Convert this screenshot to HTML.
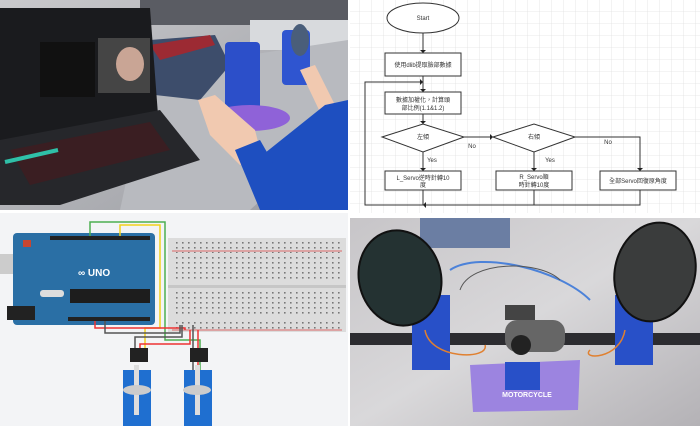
<!DOCTYPE html>
<html><head><meta charset="utf-8"><style>
html,body{margin:0;padding:0;background:#fff;}
svg{display:block}
text{font-family:"Liberation Sans","Noto Sans CJK TC",sans-serif;}
</style></head><body>
<svg width="700" height="426" viewBox="0 0 700 426" xmlns="http://www.w3.org/2000/svg">
<defs>
<pattern id="grid" width="12" height="12" patternUnits="userSpaceOnUse"><path d="M12 0V12H0" fill="none" stroke="#e2e2e2" stroke-width="0.8"/></pattern>
<pattern id="holes" width="6" height="5" patternUnits="userSpaceOnUse"><rect x="2" y="2" width="1.6" height="1.6" fill="#777"/></pattern>
<linearGradient id="floor" x1="0" y1="0" x2="1" y2="1"><stop offset="0" stop-color="#c9c9cc"/><stop offset="1" stop-color="#9a9ca2"/></linearGradient>
<linearGradient id="bg2" x1="0" y1="0" x2="1" y2="1"><stop offset="0" stop-color="#c7c5c8"/><stop offset="0.5" stop-color="#d9d8da"/><stop offset="1" stop-color="#b4b2b6"/></linearGradient>
</defs>

<!-- TOP LEFT PHOTO -->
<rect x="0" y="0" width="348" height="210" fill="url(#floor)"/>
<rect x="140" y="0" width="208" height="25" fill="#5a5c63"/>
<rect x="250" y="20" width="98" height="30" fill="#d8dadd"/>
<polygon points="150,70 348,40 348,120 250,210 120,210" fill="#b8babf"/>
<polygon points="150,40 215,35 230,65 200,100 155,95" fill="#3d4d6b"/>
<polygon points="150,45 210,35 215,45 160,60" fill="#9c2a33"/>
<polygon points="0,8 150,8 158,115 10,140 0,140" fill="#1a1b1e"/>
<rect x="40" y="42" width="55" height="55" fill="#111"/>
<rect x="98" y="38" width="52" height="55" fill="#454545"/>
<ellipse cx="130" cy="64" rx="14" ry="17" fill="#c9a595"/>
<polygon points="0,140 160,110 200,160 60,205 0,205" fill="#26272b"/>
<polygon points="10,150 150,122 170,150 30,185" fill="#3a1e22"/>
<line x1="5" y1="162" x2="58" y2="150" stroke="#2fc0a8" stroke-width="4"/>
<rect x="225" y="42" width="35" height="70" fill="#2c4fc9" rx="4"/>
<rect x="282" y="30" width="28" height="55" fill="#2f55d0" rx="4"/>
<ellipse cx="300" cy="40" rx="9" ry="16" fill="#4a5e7a"/>
<ellipse cx="250" cy="118" rx="40" ry="13" fill="#8f62d8"/>
<polygon points="198,100 215,95 255,130 262,158 240,165 210,135" fill="#f1c9b0"/>
<polygon points="300,70 315,65 335,105 320,112" fill="#f1c9b0"/>
<polygon points="325,105 348,100 348,210 300,210 250,165" fill="#1e4fc0"/>
<polygon points="235,150 260,140 300,210 260,210" fill="#1e4fc0"/>

<!-- TOP RIGHT FLOWCHART -->
<rect x="350" y="0" width="350" height="213" fill="#fff"/>
<rect x="350" y="0" width="350" height="213" fill="url(#grid)"/>
<g stroke="#333" stroke-width="1" fill="#fff">
<ellipse cx="423" cy="18" rx="36" ry="15"/>
<rect x="385" y="53" width="76" height="23"/>
<rect x="385" y="92" width="76" height="22"/>
<polygon points="382,137 423,124 464,137 423,152"/>
<polygon points="493,137 534,124 575,137 534,152"/>
<rect x="385" y="171" width="76" height="19"/>
<rect x="496" y="171" width="76" height="19"/>
<rect x="600" y="171" width="76" height="19"/>
</g>
<g stroke="#333" stroke-width="1" fill="none">
<path d="M423 33V53M423 76V92M423 114V124M423 152V171M464 137H493M575 137H640V171M534 152V171"/>
<path d="M423 190V205M534 190V205M640 190V205H365V82H423"/>
</g>
<g fill="#222">
<polygon points="420,50 426,50 423,53"/><polygon points="420,89 426,89 423,92"/>
<polygon points="420,121 426,121 423,124"/><polygon points="420,168 426,168 423,171"/>
<polygon points="490,134 490,140 493,137"/><polygon points="637,168 643,168 640,171"/>
<polygon points="531,168 537,168 534,171"/><polygon points="420,79 420,85 423,82"/>
<polygon points="426,202 426,208 423,205"/>
</g>
<g font-size="6" fill="#333" text-anchor="middle">
<text x="423" y="20">Start</text>
<text x="423" y="67">使用dlib提取臉部數據</text>
<text x="423" y="102">數據加權化，計算頭</text>
<text x="423" y="110">部比例(1.1&amp;1.2)</text>
<text x="423" y="139">左傾</text>
<text x="534" y="139">右傾</text>
<text x="423" y="180">L_Servo逆時針轉10</text>
<text x="423" y="187">度</text>
<text x="534" y="179">R_Servo順</text>
<text x="534" y="187">時針轉10度</text>
<text x="638" y="183">全部Servo回復原角度</text>
<text x="472" y="148">No</text>
<text x="608" y="144">No</text>
<text x="432" y="162">Yes</text>
<text x="550" y="162">Yes</text>
</g>

<!-- BOTTOM LEFT CIRCUIT -->
<rect x="0" y="213" width="348" height="213" fill="#f3f4f6"/>
<rect x="168" y="238" width="178" height="94" fill="#dcdcdc"/>
<rect x="172" y="241" width="170" height="12" fill="url(#holes)"/>
<line x1="172" y1="251" x2="342" y2="251" stroke="#d44" stroke-width="0.7"/>
<rect x="172" y="257" width="170" height="25" fill="url(#holes)"/>
<rect x="168" y="285" width="178" height="3" fill="#c6c6c6"/>
<rect x="172" y="290" width="170" height="26" fill="url(#holes)"/>
<rect x="172" y="319" width="170" height="10" fill="url(#holes)"/>
<line x1="172" y1="330" x2="342" y2="330" stroke="#d44" stroke-width="0.7"/>
<rect x="0" y="254" width="34" height="20" fill="#ccc"/>
<rect x="13" y="233" width="142" height="92" rx="4" fill="#2a6fa5"/>
<rect x="7" y="306" width="28" height="14" fill="#222"/>
<rect x="70" y="289" width="80" height="14" fill="#1d1d1d"/>
<rect x="50" y="236" width="100" height="4" fill="#222"/>
<rect x="68" y="317" width="82" height="4" fill="#222"/>
<rect x="23" y="240" width="8" height="7" fill="#c84630"/>
<rect x="40" y="290" width="24" height="7" fill="#ddd" rx="3"/>
<text x="78" y="276" font-size="10" fill="#fff" font-weight="bold">∞ UNO</text>
<path d="M90 236V222H165V330" fill="none" stroke="#4caf50" stroke-width="1.5"/>
<path d="M120 236V225H160V328H145V360" fill="none" stroke="#f2d21c" stroke-width="1.5"/>
<path d="M165 330V340H200V370" fill="none" stroke="#4caf50" stroke-width="1.5"/>
<path d="M95 321V328H185V330M140 360V344H190V330M198 330V370" fill="none" stroke="#e33" stroke-width="1.5"/>
<path d="M105 321V333H180V325M135 360V337H182V325M193 325V370" fill="none" stroke="#555" stroke-width="1.5"/>
<rect x="130" y="348" width="18" height="14" fill="#222"/>
<rect x="190" y="348" width="18" height="14" fill="#222"/>
<rect x="123" y="370" width="28" height="56" fill="#1f6fd0"/>
<rect x="184" y="370" width="28" height="56" fill="#1f6fd0"/>
<rect x="134" y="365" width="5" height="50" fill="#ddd"/>
<rect x="195" y="365" width="5" height="50" fill="#ddd"/>
<ellipse cx="137" cy="390" rx="14" ry="5" fill="#ccc"/>
<ellipse cx="197" cy="390" rx="14" ry="5" fill="#ccc"/>

<!-- BOTTOM RIGHT PHOTO -->
<rect x="350" y="218" width="350" height="208" fill="url(#bg2)"/>
<rect x="420" y="218" width="90" height="30" fill="#6b7ea3"/>
<path d="M450 270C480 250 560 270 590 300" fill="none" stroke="#4c82d9" stroke-width="2"/>
<path d="M460 290C470 260 540 260 560 280" fill="none" stroke="#555" stroke-width="1"/>
<polygon points="470,365 580,360 578,410 473,412" fill="#9c84e0"/>
<text x="527" y="397" font-size="7" fill="#fff" text-anchor="middle" font-weight="bold">MOTORCYCLE</text>
<rect x="350" y="333" width="350" height="12" fill="#2c2c30"/>
<rect x="412" y="295" width="38" height="75" fill="#2850c8"/>
<rect x="615" y="295" width="38" height="70" fill="#2850c8"/>
<rect x="505" y="362" width="35" height="28" fill="#2850c8"/>
<ellipse cx="400" cy="278" rx="41" ry="48" transform="rotate(-15 400 278)" fill="#243232" stroke="#111" stroke-width="2"/>
<ellipse cx="655" cy="272" rx="40" ry="50" transform="rotate(15 655 272)" fill="#3a3c3c" stroke="#111" stroke-width="2"/>
<rect x="505" y="305" width="30" height="15" fill="#444"/>
<rect x="505" y="320" width="60" height="32" rx="12" fill="#666"/>
<circle cx="521" cy="345" r="10" fill="#222"/>
<path d="M425 330C430 360 490 360 485 345M625 330C620 360 580 360 590 350" fill="none" stroke="#e08030" stroke-width="1.5"/>
</svg>
</body></html>
